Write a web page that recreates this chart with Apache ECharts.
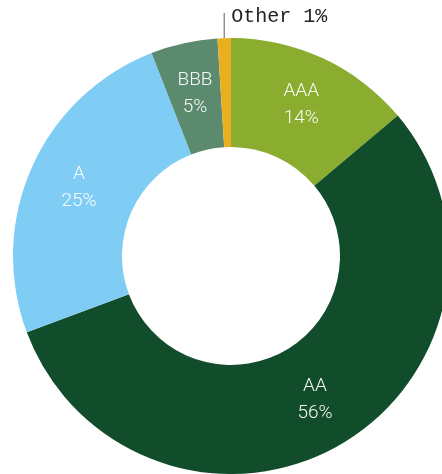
<!DOCTYPE html>
<html>
<head>
<meta charset="utf-8">
<script src="https://cdn.jsdelivr.net/npm/echarts@6/dist/echarts.min.js"></script>
<style>
  html, body { margin: 0; padding: 0; background: #fff; }
  #chart { width: 442px; height: 474px; }
</style>
</head>
<body>
<div id="chart"></div>
<script>
// rating buckets, clockwise from 12 o'clock
const ratings = ['AAA', 'AA', 'A', 'BBB', 'Other'];
const shares = [14, 56, 25, 5, 1];
const colors = ['#8aac2f', '#114d2a', '#7fcdf5', '#5b8a6e', '#e8b020'];

const chart = echarts.init(document.getElementById('chart'));

const pieData = ratings.map((name, i) => {
  const item = { name: name, value: shares[i], itemStyle: { color: colors[i] } };
  if (name === 'Other') {
    // small slice, label sits above with a short vertical leader
    item.label = {
      position: 'outside',
      color: '#222',
      fontFamily: 'Liberation Mono',
      fontSize: 20,
      formatter: '{b} {c}%'
    };
    item.labelLine = { show: true, length: 20, length2: 0, lineStyle: { color: '#777', width: 1.2 } };
  }
  return item;
});

chart.setOption({
  animation: false,
  series: [{
    type: 'pie',
    center: [231, 256],
    radius: [109, 218],
    startAngle: 90,
    clockwise: true,
    data: pieData,
    label: {
      position: 'inside',
      formatter: '{b}\n{c}%',
      color: 'rgba(255,255,255,0.95)',
      fontFamily: 'Roboto',
      fontWeight: 300,
      fontSize: 19,
      lineHeight: 27
    },
    labelLine: { show: false },
    labelLayout: function (params) {
      const p = params.labelLinePoints;
      if (params.dataIndex !== ratings.indexOf('Other') || !p) return {};
      const base = p[0];
      return {
        x: base[0] + 7,
        y: base[1] - 21,
        align: 'left',
        verticalAlign: 'middle',
        labelLinePoints: [base, [base[0], base[1] - 25]]
      };
    }
  }]
});
</script>
</body>
</html>
